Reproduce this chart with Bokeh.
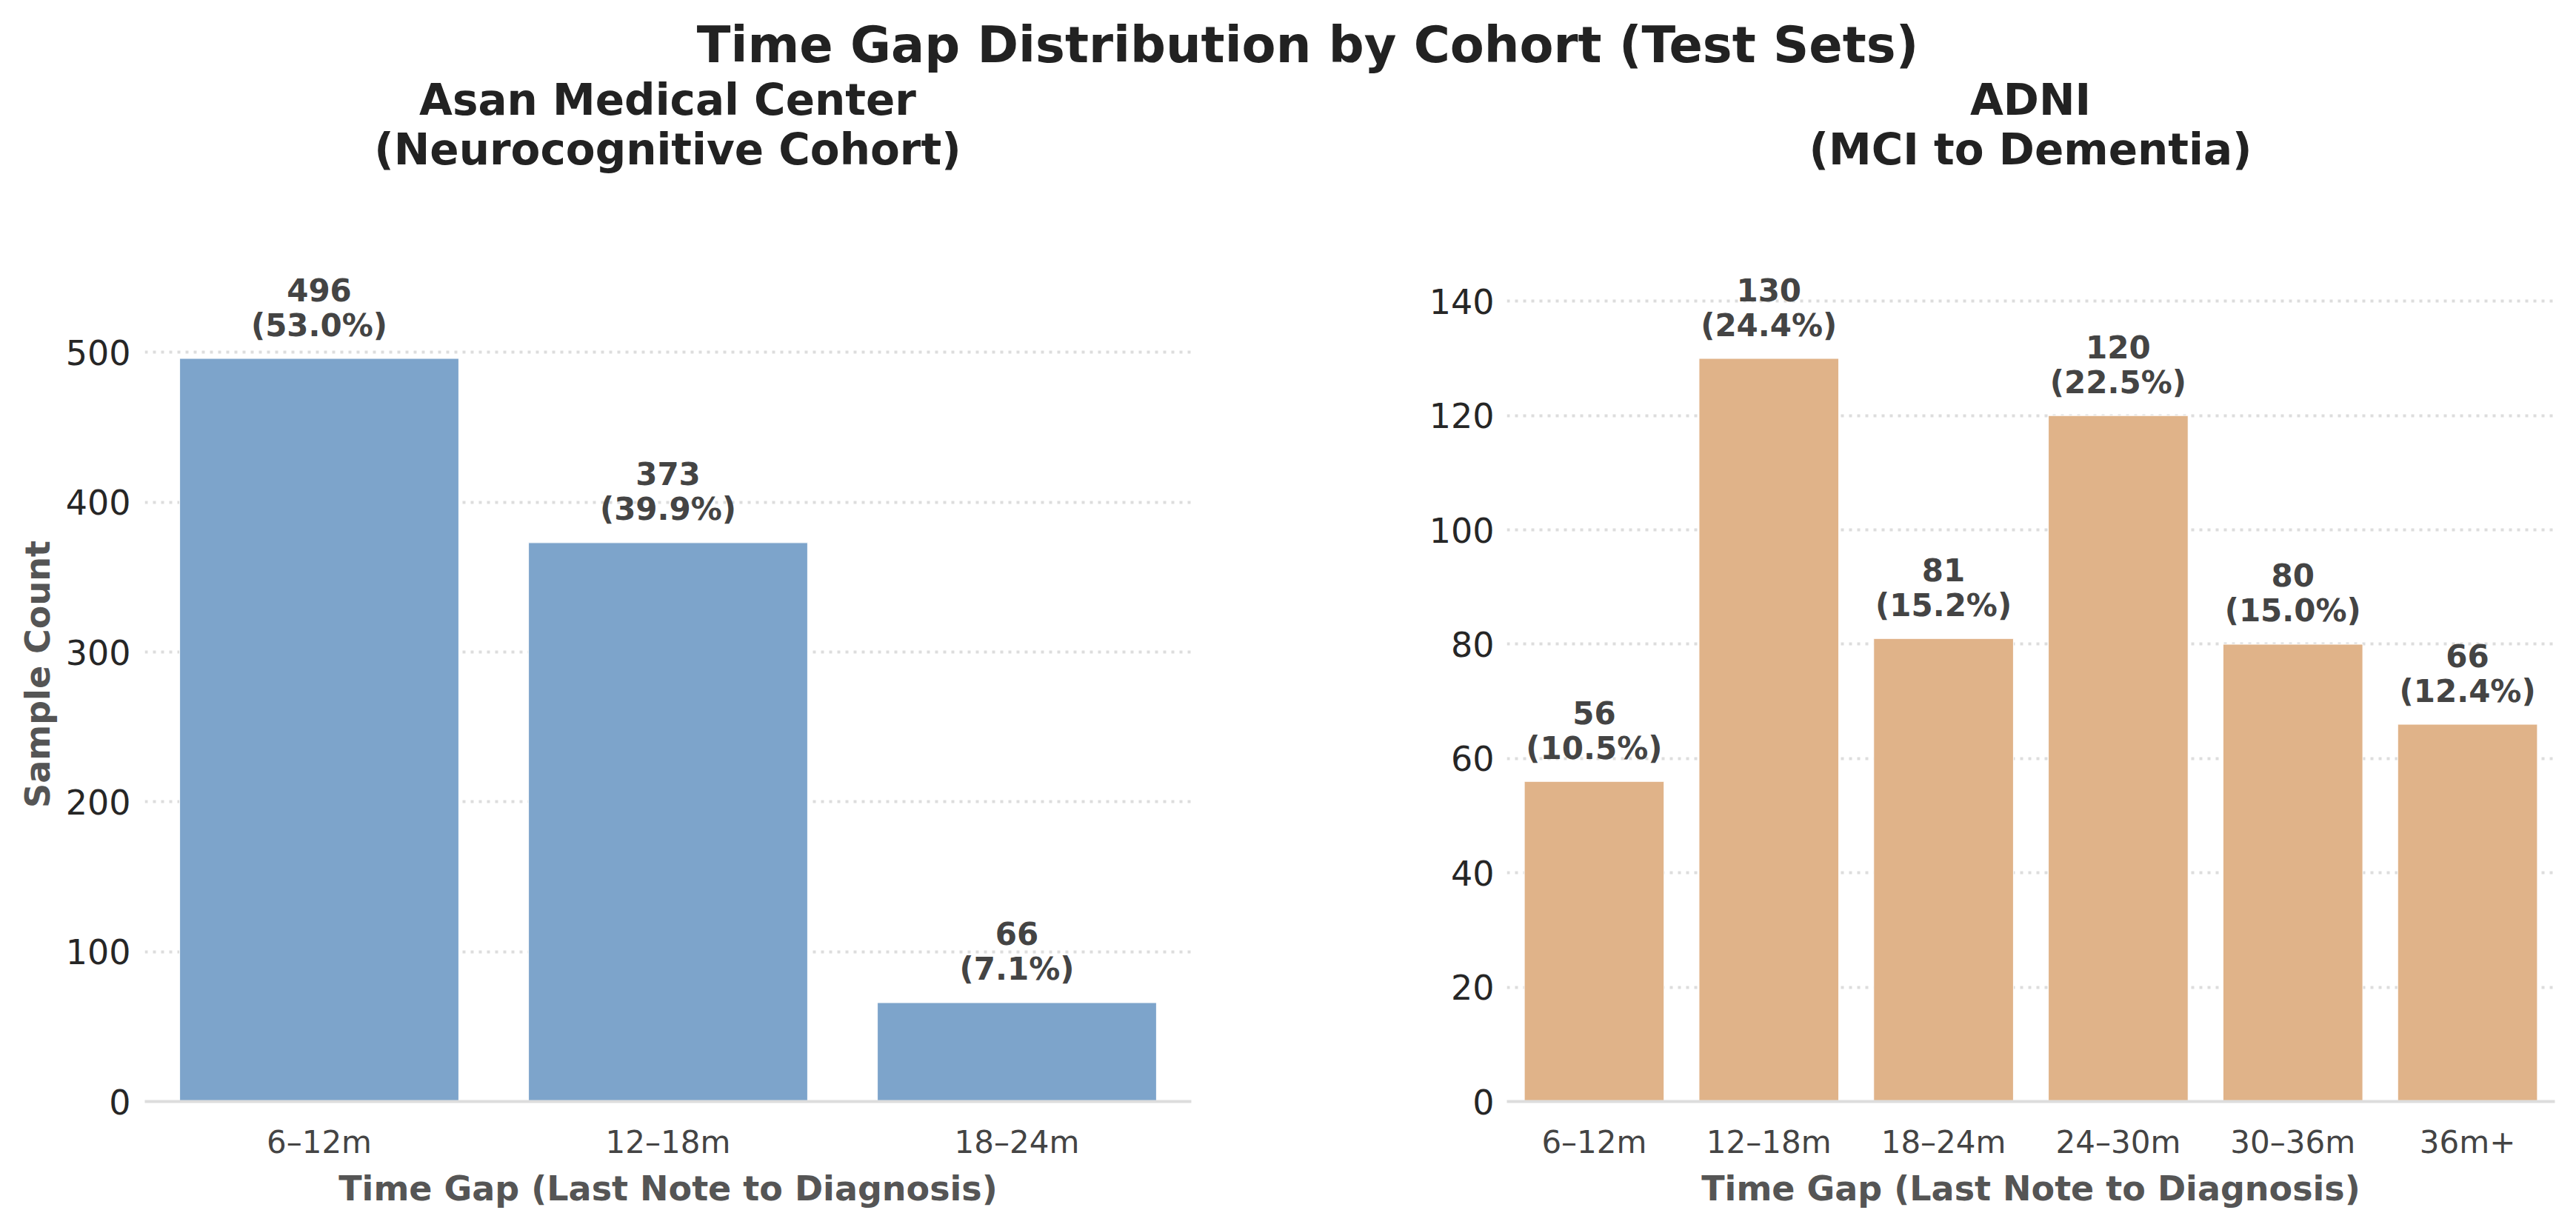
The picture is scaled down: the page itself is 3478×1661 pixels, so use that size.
from bokeh.plotting import figure
from bokeh.layouts import column, row
from bokeh.models import Range1d, FactorRange, SingleIntervalTicker, ColumnDataSource
from bokeh.core.properties import value
from bokeh.embed import file_html
from bokeh.resources import INLINE

# ---- data ----
suptitle = "Time Gap Distribution by Cohort (Test Sets)"
amc_title = ["Asan Medical Center", "(Neurocognitive Cohort)"]
adni_title = ["ADNI", "(MCI to Dementia)"]
amc_cats = ["6–12m", "12–18m", "18–24m"]
amc_counts = [496, 373, 66]
adni_cats = ["6–12m", "12–18m", "18–24m", "24–30m", "30–36m", "36m+"]
adni_counts = [56, 130, 81, 120, 80, 66]
xlabel = "Time Gap (Last Note to Diagnosis)"
ylabel = "Sample Count"

FONT = value("DejaVu Sans")
FONT_NAME = "DejaVu Sans"

# ---- top title strip ----
TOP_H = 248
top = figure(width=3462, height=TOP_H, output_backend="svg", toolbar_location=None,
             title_location=None,
             x_range=Range1d(0, 3462), y_range=Range1d(TOP_H, 0),
             x_axis_location=None, y_axis_location=None, min_border=0)
top.grid.visible = False
top.outline_line_color = None
top.text(x=[1765], y=[60], text=[suptitle], text_font=FONT, text_font_size="67px",
         text_font_style="bold", text_color="#222222", text_align="center",
         text_baseline="alphabetic")
top.text(x=[901, 901, 2741, 2741], y=[134, 201, 134, 201],
         text=[amc_title[0], amc_title[1], adni_title[0], adni_title[1]],
         text_font=FONT, text_font_size="58px", text_font_style="bold",
         text_color="#222222", text_align="center", text_baseline="alphabetic")

ROW_H = 1645 - TOP_H


def make_panel(cats, counts, color, width, bl, br, interval, show_ylabel, ystand):
    total = sum(counts)
    pct = [f"({c / total * 100:.1f}%)" for c in counts]
    cnt = [str(c) for c in counts]
    src = ColumnDataSource(dict(x=cats, top=counts, pct=pct, cnt=cnt))
    p = figure(width=width, height=ROW_H, output_backend="svg", toolbar_location=None,
               title_location=None,
               x_range=FactorRange(*cats), y_range=Range1d(0, max(counts) * 1.15),
               min_border_left=bl, min_border_right=br, min_border_top=85,
               min_border_bottom=ROW_H - 85 - 1154)
    p.outline_line_color = None
    p.background_fill_color = "white"
    p.xgrid.visible = False
    p.ygrid.grid_line_color = "#dddddd"
    p.ygrid.grid_line_width = 4
    p.ygrid.grid_line_dash = "4 7"
    p.vbar(x="x", top="top", width=0.8, source=src, fill_color=color,
           line_color="white", line_width=1)
    p.text(x="x", y="top", text="pct", source=src, y_offset=-45, text_font=FONT,
           text_font_size="42px", text_font_style="bold", text_color="#444444",
           text_align="center", text_baseline="alphabetic")
    p.text(x="x", y="top", text="cnt", source=src, y_offset=-93, text_font=FONT,
           text_font_size="42px", text_font_style="bold", text_color="#444444",
           text_align="center", text_baseline="alphabetic")

    xa = p.xaxis[0]
    xa.axis_line_color = "#dddddd"
    xa.axis_line_width = 4
    xa.major_tick_line_color = None
    xa.minor_tick_line_color = None
    xa.major_tick_out = 0
    xa.major_label_text_font = FONT_NAME
    xa.major_label_text_font_size = "42px"
    xa.major_label_text_color = "#444444"
    xa.major_label_standoff = 30
    xa.axis_label = xlabel
    xa.axis_label_text_font = FONT_NAME
    xa.axis_label_text_font_size = "46px"
    xa.axis_label_text_font_style = "bold"
    xa.axis_label_text_color = "#555555"
    xa.axis_label_standoff = 8

    ya = p.yaxis[0]
    ya.ticker = SingleIntervalTicker(interval=interval, num_minor_ticks=0)
    ya.axis_line_color = None
    ya.major_tick_line_color = None
    ya.minor_tick_line_color = None
    ya.major_tick_out = 0
    ya.major_label_text_font = FONT_NAME
    ya.major_label_text_font_size = "46px"
    ya.major_label_text_color = "#262626"
    ya.major_label_standoff = ystand
    if show_ylabel:
        ya.axis_label = ylabel
        ya.axis_label_text_font = FONT_NAME
        ya.axis_label_text_font_size = "46px"
        ya.axis_label_text_font_style = "bold"
        ya.axis_label_text_color = "#555555"
        ya.axis_label_standoff = 8
    return p


p1 = make_panel(amc_cats, amc_counts, "#7DA4CB", 1800, 195, 1800 - 195 - 1413, 100, True, 19)
p2 = make_panel(adni_cats, adni_counts, "#E0B389", 1662, 234, 1662 - 234 - 1415, 20, False, 17)

layout = column(top, row(p1, p2))
open("out.html", "w").write(file_html(layout, INLINE))
